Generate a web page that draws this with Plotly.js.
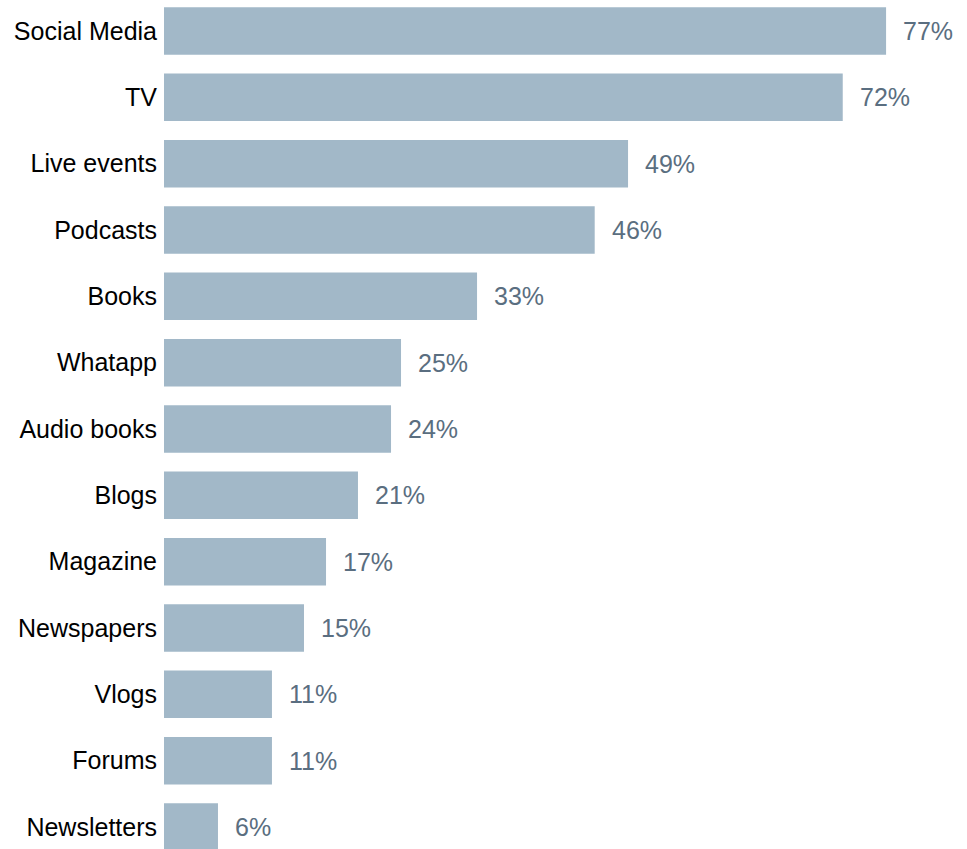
<!DOCTYPE html>
<html>
<head>
<meta charset="utf-8">
<script src="https://cdn.plot.ly/plotly-3.0.1.min.js"></script>
<style>html,body{margin:0;padding:0;background:#fff;}#chart{width:967px;height:849px;}</style>
</head>
<body>
<div id="chart"></div>
<script>
// Categories top to bottom
var categories = ["Social Media","TV","Live events","Podcasts","Books","Whatapp","Audio books","Blogs","Magazine","Newspapers","Vlogs","Forums","Newsletters"];
// Estimated underlying values (%)
var values = [76.65, 72.05, 49.26, 45.72, 33.23, 25.16, 24.10, 20.59, 17.20, 14.86, 11.46, 11.46, 5.73];
// Displayed value labels
var valueLabels = ["77%","72%","49%","46%","33%","25%","24%","21%","17%","15%","11%","11%","6%"];

var barColor = "#a2b8c8";
var valueColor = "#5a6e80";

var trace = {
  type: "bar",
  orientation: "h",
  x: values,
  y: categories,
  marker: {color: barColor},
  hoverinfo: "none"
};

var annotations = categories.map(function(c, i){
  return {
    x: values[i], y: c, xref: "x", yref: "y",
    text: valueLabels[i], showarrow: false,
    xanchor: "left", yanchor: "middle", xshift: 15,
    font: {family: "Liberation Sans, Arial, sans-serif", size: 25, color: valueColor}
  };
});

var layout = {
  width: 967, height: 849,
  margin: {l: 164, r: 0, t: 0, b: 0, pad: 0},
  paper_bgcolor: "#fff", plot_bgcolor: "#fff",
  bargap: 0.284,
  showlegend: false,
  font: {family: "Liberation Sans, Arial, sans-serif", size: 25, color: "#000"},
  xaxis: {range: [0, 85.24], showgrid: false, zeroline: false, showticklabels: false, showline: false, fixedrange: true},
  yaxis: {
    type: "category",
    categoryorder: "array",
    categoryarray: categories.slice().reverse(),
    range: [-0.332, 12.467],
    showgrid: false, zeroline: false, showline: false,
    ticks: "", ticklabelstandoff: 6,
    tickfont: {family: "Liberation Sans, Arial, sans-serif", size: 25, color: "#000"},
    fixedrange: true
  },
  annotations: annotations
};

Plotly.newPlot("chart", [trace], layout, {displayModeBar: false, staticPlot: true});
</script>
</body>
</html>
